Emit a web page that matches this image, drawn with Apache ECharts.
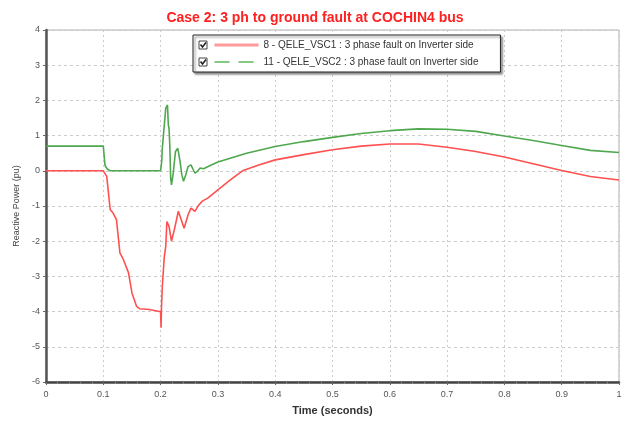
<!DOCTYPE html>
<html>
<head>
<meta charset="utf-8">
<script src="https://cdn.jsdelivr.net/npm/echarts@6/dist/echarts.min.js"></script>
<style>
  html, body { margin: 0; padding: 0; background: #fff; }
  #chart { width: 630px; height: 421px; }
</style>
</head>
<body>
<div id="chart"></div>
<script>
// data
const titleText = 'Case 2: 3 ph to ground fault at COCHIN4 bus'
const seriesNames = [
  '8 - QELE_VSC1 : 3 phase fault on Inverter side',
  '11 - QELE_VSC2 : 3 phase fault on Inverter side'
]

const tRed = [0, 0.1, 0.106, 0.112, 0.117, 0.123, 0.129, 0.135, 0.144, 0.15, 0.158, 0.164, 0.18, 0.196, 0.2, 0.2008, 0.2015,
  0.203, 0.2065, 0.209, 0.211, 0.2147, 0.219, 0.224, 0.231, 0.236, 0.241, 0.248, 0.253, 0.26, 0.265, 0.272, 0.283, 0.3,
  0.32, 0.343, 0.37, 0.4, 0.45, 0.5, 0.55, 0.6, 0.65, 0.7, 0.75, 0.8, 0.85, 0.9, 0.95, 1.0]
const qRed = [0, 0, -0.16, -1.1, -1.2, -1.39, -2.33, -2.52, -2.9, -3.47, -3.85, -3.92, -3.94, -3.99, -4.0, -4.46, -3.9,
  -3.28, -2.43, -2.15, -1.44, -1.58, -2.0, -1.67, -1.15, -1.39, -1.63, -1.25, -1.06, -1.15, -1.01, -0.87, -0.77, -0.54,
  -0.28, 0, 0.16, 0.31, 0.46, 0.6, 0.7, 0.76, 0.76, 0.67, 0.55, 0.39, 0.2, 0.01, -0.16, -0.26]

const tGreen = [0, 0.1, 0.103, 0.107, 0.112, 0.2, 0.2019, 0.203, 0.209, 0.212, 0.2135, 0.2147, 0.216, 0.2176, 0.219,
  0.222, 0.226, 0.23, 0.234, 0.237, 0.24, 0.244, 0.248, 0.253, 0.257, 0.26, 0.265, 0.269, 0.275, 0.283, 0.3, 0.35,
  0.4, 0.45, 0.5, 0.55, 0.6, 0.65, 0.7, 0.75, 0.8, 0.85, 0.9, 0.95, 1.0]
const qGreen = [0.7, 0.7, 0.15, 0.05, 0, 0, 0.26, 0.64, 1.78, 1.87, 1.3, 1.21, 0.74, -0.21, -0.4,
  -0.07, 0.55, 0.64, 0.26, -0.11, -0.3, -0.11, 0.12, 0.17, 0.03, -0.07, 0, 0.08, 0.06, 0.12, 0.25, 0.5,
  0.69, 0.83, 0.95, 1.06, 1.14, 1.19, 1.18, 1.12, 0.99, 0.86, 0.72, 0.58, 0.52]

const xTicks = [0, 0.1, 0.2, 0.3, 0.4, 0.5, 0.6, 0.7, 0.8, 0.9, 1]
const yTicks = [-6, -5, -4, -3, -2, -1, 0, 1, 2, 3, 4]

const zip = (ts, qs) => ts.map((t, i) => [t, qs[i]])

function checkbox(y) {
  return {
    type: 'group',
    x: 199,
    y: y,
    z: 100,
    children: [
      { type: 'rect', z: 100, shape: { x: 0, y: 0, width: 8, height: 8 }, style: { fill: '#fff', stroke: '#444', lineWidth: 1 } },
      { type: 'polyline', z: 101, shape: { points: [[1.5, 3.5], [3.5, 6], [7, 1.5]] }, style: { stroke: '#222', lineWidth: 1.6, fill: null } }
    ]
  }
}

function renderChart() {
  const chart = echarts.init(document.getElementById('chart'))
  const option = {
    animation: false,
    textStyle: { fontFamily: 'Arial, "Liberation Sans", sans-serif' },
    title: {
      text: titleText,
      left: 'center',
      top: 6,
      textStyle: { color: '#ff2020', fontSize: 14, fontWeight: 'bold' }
    },
    legend: {
      orient: 'vertical',
      left: 193,
      top: 35,
      padding: [5, 22, 5, 20],
      itemWidth: 44,
      itemHeight: 10,
      itemGap: 7,
      backgroundColor: '#fff',
      borderColor: '#222',
      borderWidth: 1,
      shadowColor: 'rgba(0,0,0,0.45)',
      shadowBlur: 2,
      shadowOffsetX: 2,
      shadowOffsetY: 2,
      selectedMode: false,
      textStyle: { fontSize: 10, color: '#333' },
      data: [
        { name: seriesNames[0], itemStyle: { opacity: 0 }, lineStyle: { color: '#ff9a9a', width: 3 } },
        { name: seriesNames[1], itemStyle: { opacity: 0 }, lineStyle: { color: '#5cb85c', width: 1.5, type: [15, 9] } }
      ]
    },
    graphic: [checkbox(41), checkbox(58)],
    grid: {
      left: 46, right: 11, top: 30, bottom: 38,
      show: true, borderColor: '#b0b0b0', borderWidth: 1
    },
    xAxis: {
      type: 'value',
      min: xTicks[0],
      max: xTicks[xTicks.length - 1],
      interval: 0.1,
      name: 'Time (seconds)',
      nameLocation: 'middle',
      nameGap: 23,
      nameTextStyle: { fontSize: 11, fontWeight: 'bold', color: '#333' },
      axisLine: { onZero: false, lineStyle: { color: '#444', width: 2.5 } },
      axisTick: { length: 3, lineStyle: { color: '#666' } },
      minorTick: { show: true, splitNumber: 5, length: 2, lineStyle: { color: '#888' } },
      axisLabel: { fontSize: 9, color: '#555', margin: 8 },
      splitLine: { show: true, lineStyle: { color: '#cccccc', type: [2, 3] } }
    },
    yAxis: {
      type: 'value',
      min: yTicks[0],
      max: yTicks[yTicks.length - 1],
      interval: 1,
      name: 'Reactive Power (pu)',
      nameLocation: 'middle',
      nameGap: 18,
      nameTextStyle: { fontSize: 9, color: '#444' },
      axisLine: { show: true, onZero: false, lineStyle: { color: '#555', width: 2.5 } },
      axisTick: { show: true, length: 3, lineStyle: { color: '#666' } },
      axisLabel: { fontSize: 9, color: '#555', margin: 6 },
      splitLine: { show: true, lineStyle: { color: '#cccccc', type: [3, 3] } }
    },
    series: [
      {
        name: seriesNames[0],
        type: 'line',
        symbol: 'none',
        data: zip(tRed, qRed),
        lineStyle: { color: '#ff5050', width: 1.6 },
        itemStyle: { color: '#ff5050' }
      },
      {
        name: seriesNames[1],
        type: 'line',
        symbol: 'none',
        data: zip(tGreen, qGreen),
        lineStyle: { color: '#4fa84f', width: 1.6 },
        itemStyle: { color: '#4fa84f' }
      }
    ]
  }
  chart.setOption(option)
}

document.addEventListener('DOMContentLoaded', renderChart)
</script>
</body>
</html>
